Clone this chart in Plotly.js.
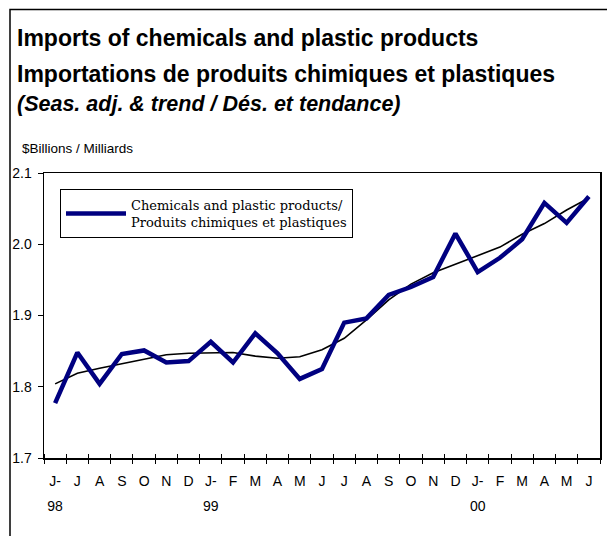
<!DOCTYPE html>
<html>
<head>
<meta charset="utf-8">
<script src="https://cdn.plot.ly/plotly-3.0.1.min.js"></script>
<style>
  html, body { margin: 0; padding: 0; background: #fff; }
  #chart { width: 607px; height: 536px; }
</style>
</head>
<body>
<div id="chart"></div>
<script>
// ---- Data ----
const monthLabels = ["J-","J","A","S","O","N","D","J-","F","M","A","M","J","J","A","S","O","N","D","J-","F","M","A","M","J"];
const yearLabels = ["98","99","00"];
const yearIndex = [0, 7, 19];
const seasAdj = [1.777,1.848,1.804,1.846,1.851,1.834,1.836,1.863,1.834,1.875,1.847,1.811,
                 1.825,1.890,1.896,1.929,1.940,1.954,2.015,1.961,1.981,2.007,2.058,2.030,2.067];
const trend   = [1.804,1.819,1.826,1.832,1.839,1.845,1.847,1.848,1.848,1.843,1.840,1.842,
                 1.852,1.868,1.894,1.922,1.944,1.960,1.972,1.985,1.996,2.014,2.029,2.048,2.065];
const seriesName = "Chemicals and plastic products/<br>Produits chimiques et plastiques";

// ---- Layout helpers ----
const W = 607, H = 536;
const M = {l: 44, r: 7, t: 173, b: 78};
const PW = W - M.l - M.r, PH = H - M.t - M.b;
const px = x => (x - M.l) / PW;
const py = y => (H - M.b - y) / PH;

const idx = monthLabels.map((_, i) => i);
const bounds = monthLabels.map((_, i) => i - 0.5).concat([monthLabels.length - 0.5]);
const xr = [-0.5, monthLabels.length - 0.5];

const traces = [
  {x: idx, y: trend, type: 'scatter', mode: 'lines', showlegend: false,
   line: {color: '#000000', width: 1.6}, hoverinfo: 'skip'},
  {x: idx, y: seasAdj, type: 'scatter', mode: 'lines', name: seriesName,
   line: {color: '#000080', width: 4.5}},
  // invisible carrier so the year-label axis is drawn
  {x: yearIndex, y: yearIndex.map(i => seasAdj[i]), xaxis: 'x2', yaxis: 'y',
   type: 'scatter', mode: 'markers', marker: {opacity: 0, size: 1},
   showlegend: false, hoverinfo: 'skip'}
];

const tickFont = {family: 'Liberation Sans, Arial, sans-serif', size: 14, color: '#000'};

const layout = {
  width: W, height: H,
  margin: M,
  paper_bgcolor: '#fff', plot_bgcolor: '#fff',
  showlegend: true,
  legend: {
    x: px(60), y: py(189), xanchor: 'left', yanchor: 'top',
    bgcolor: '#fff', bordercolor: '#000', borderwidth: 1,
    font: {family: 'DejaVu Serif, serif', size: 13, color: '#000'},
    itemwidth: 60, tracegroupgap: 0
  },
  xaxis: {
    range: xr, tickmode: 'array', tickvals: idx, ticktext: monthLabels,
    ticks: '', showgrid: false, zeroline: false,
    showline: true, linecolor: '#000', linewidth: 1.5, mirror: true,
    tickfont: tickFont, ticklabelstandoff: 10,
    minor: {tickmode: 'array', tickvals: bounds, ticks: 'outside', ticklen: 4,
            tickcolor: '#000', tickwidth: 1, showgrid: false}
  },
  xaxis2: {
    range: xr, overlaying: 'x', anchor: 'y', side: 'bottom',
    tickmode: 'array', tickvals: yearIndex, ticktext: yearLabels,
    ticks: '', showgrid: false, zeroline: false, showline: false,
    tickfont: tickFont, ticklabelstandoff: 38,
    minor: {tickmode: 'array', tickvals: bounds, ticks: 'inside', ticklen: 4,
            tickcolor: '#000', tickwidth: 1, showgrid: false}
  },
  yaxis: {
    range: [1.7, 2.1], tickmode: 'linear', tick0: 1.7, dtick: 0.1, tickformat: '.1f',
    ticks: 'outside', ticklen: 5, tickcolor: '#000', tickwidth: 1,
    showgrid: false, zeroline: false,
    showline: true, linecolor: '#000', linewidth: 1.5, mirror: true,
    tickfont: tickFont, ticklabelstandoff: 3
  },
  annotations: [
    {text: '<b>Imports of chemicals and plastic products</b>', xref: 'paper', yref: 'paper',
     x: px(15), y: py(37.5), xanchor: 'left', yanchor: 'middle', showarrow: false,
     font: {family: 'Liberation Sans, Arial, sans-serif', size: 23, color: '#000'}},
    {text: '<b>Importations de produits chimiques et plastiques</b>', xref: 'paper', yref: 'paper',
     x: px(15), y: py(73.5), xanchor: 'left', yanchor: 'middle', showarrow: false,
     font: {family: 'Liberation Sans, Arial, sans-serif', size: 23, color: '#000'}},
    {text: '<b><i>(Seas. adj. &amp; trend / Dés. et tendance)</i></b>', xref: 'paper', yref: 'paper',
     x: px(15), y: py(104), xanchor: 'left', yanchor: 'middle', showarrow: false,
     font: {family: 'Liberation Sans, Arial, sans-serif', size: 21.5, color: '#000'}},
    {text: '$Billions / Milliards', xref: 'paper', yref: 'paper',
     x: px(20), y: py(148), xanchor: 'left', yanchor: 'middle', showarrow: false,
     font: {family: 'Liberation Sans, Arial, sans-serif', size: 13.5, color: '#000'}}
  ],
  shapes: [
    {type: 'path', xref: 'paper', yref: 'paper',
     path: 'M ' + px(10) + ' ' + py(540) + ' L ' + px(10) + ' ' + py(9.5) + ' L ' + px(610) + ' ' + py(9.5),
     line: {color: '#000', width: 1.5}, layer: 'above'}
  ]
};

Plotly.newPlot('chart', traces, layout, {displayModeBar: false, staticPlot: true});
</script>
</body>
</html>
